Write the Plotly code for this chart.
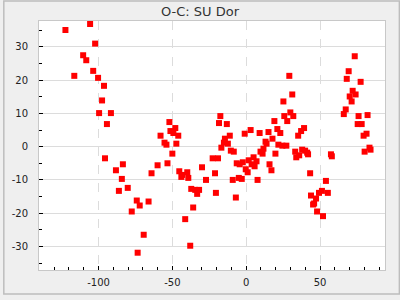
import plotly.graph_objects as go

# Cycle (E) values and O-C residuals
cycle = [
    -105.7, -122.4, -102.3, -110.4, -108.3, -103.6, -116.4, -100.3, -96.3, -97.6,
    -99.6, -91.6, -94.3, -52.0, -48.0, -51.3, -49.3, -46.0, -58.0, -55.3,
    -54.0, -47.3, -17.5, -18.4, -95.6, -83.5, -88.2, -84.2, -86.2, -80.2,
    -74.1, -72.1, -66.1, -77.5, -69.4, -73.5, -37.9, -41.3, -35.9, -33.2,
    -37.2, -34.5, -31.9, -27.2, -20.5, -21.1, -29.9, -39.2, -43.9, -43.3,
    -45.3, -39.9, -53.3, -60.0, -64.1, -50.0, -22.7, -19.1, -16.8, 73.5,
    69.4, 68.1, 77.5, 29.2, 31.2, 25.2, 72.1, 70.1, 74.1, 71.4,
    67.4, 66.1, 29.9, 25.8, 31.9, 76.1, 82.2, 19.1, 27.8, 75.5,
    78.2, -13.1, -11.1, -1.0, 3.0, 9.1, 15.1, 21.1, 23.1, 39.2,
    37.2, 35.2, 81.5, 79.5, -14.4, -15.1, -12.4, 17.8, 13.1, 13.8,
    21.8, 24.5, 27.2, -10.4, -8.4, 11.7, 9.7, 11.1, 19.8, 5.0,
    1.7, 7.0, -6.4, -4.4, -2.3, 3.7, 5.7, -0.3, 1.0, 15.8,
    17.1, -5.0, -3.0, -9.1, 7.7, -7.0, 33.2, 33.9, 35.9, 37.9,
    39.9, 41.3, 41.9, 43.3, 54.0, 51.3, 49.3, 55.3, 43.9, 47.3,
    46.0, 45.3, 48.0, 52.0, 57.4, 58.0, 80.2, 83.5, 84.2,
]
oc = [
    36.9, 35.1, 31.0, 27.5, 26.0, 22.8, 21.3, 20.7, 18.3, 13.9,
    10.1, 10.1, 6.8, 7.4, 5.6, 4.7, 4.1, 3.3, 3.3, 1.2,
    0.6, 0.9, 9.2, 7.1, -3.5, -5.3, -7.1, -9.7, -13.3, -12.4,
    -16.2, -17.7, -16.5, -19.5, -26.5, -31.9, -29.8, -21.8, -18.3, -14.2,
    -12.7, -13.0, -13.0, -10.0, -13.9, -8.0, -6.2, -9.4, -9.1, -8.5,
    -7.4, -7.7, -5.0, -5.6, -8.0, -2.1, -3.5, -3.5, -0.3, 27.2,
    22.7, 20.4, 19.5, 21.3, 15.7, 13.6, 16.8, 15.1, 15.7, 13.6,
    11.2, 9.8, 10.3, 9.2, 9.2, 9.2, 9.5, 7.7, 7.7, 6.8,
    6.8, 6.8, 3.3, 3.9, 5.0, 4.1, 4.4, 5.3, 4.1, 5.6,
    4.7, 3.3, 3.9, 3.3, 2.4, 1.2, 0.9, 2.4, 1.5, 0.9,
    0.6, 0.3, 0.3, -1.2, -1.5, -0.6, -1.5, -2.1, -2.1, -3.2,
    -4.1, -4.4, -5.0, -5.3, -4.7, -5.3, -5.9, -6.8, -7.7, -5.3,
    -7.1, -9.4, -9.7, -10.0, -10.0, -15.3, -1.5, -3.2, -2.6, -0.9,
    -1.2, -1.8, -2.3, -8.0, -10.3, -13.3, -13.9, -13.9, -14.7, -15.6,
    -17.1, -17.4, -19.5, -20.9, -2.3, -2.9, -1.5, -0.3, -0.9,
]

title_text = "O-C: SU Dor"
x_range = [-140.3, 94.0]
y_range = [-37.1, 37.8]

W, H = 400, 300
ml, mr, mt, mb = 36, 15, 21, 25
pw, ph = W - ml - mr, H - mt - mb

fig = go.Figure()
fig.add_trace(go.Scatter(
    x=cycle, y=oc, mode="markers",
    marker=dict(symbol="square", size=6, color="#ff0000", line=dict(width=0)),
    showlegend=False, hoverinfo="x+y",
))

font = "DejaVu Sans, Verdana, sans-serif"
common_axis = dict(
    showline=True, linecolor="#c8c8c8", linewidth=1, mirror=True,
    ticks="inside", ticklen=4, tickwidth=1, tickcolor="#000000",
    tickfont=dict(family=font, size=10, color="#222222"),
    zeroline=False, fixedrange=True,
)
fig.update_layout(
    width=W, height=H,
    margin=dict(l=ml, r=mr, t=mt, b=mb, pad=0),
    paper_bgcolor="#efefef", plot_bgcolor="#ffffff",
    title=dict(text=title_text, x=0.5, xanchor="center", y=1 - 11.5 / H,
               yanchor="middle", yref="container",
               font=dict(family=font, size=13, color="#333333")),
    xaxis=dict(range=x_range, tickvals=[-100, -50, 0, 50],
               ticktext=["-100", "-50", "0", "50"],
               showgrid=True, gridcolor="#dcdcdc", griddash="dash", gridwidth=1,
               minor=dict(dtick=10, tick0=0, ticks="inside", ticklen=3,
                          tickcolor="#000000", showgrid=False),
               ticklabelstandoff=3,
               **common_axis),
    yaxis=dict(range=y_range, tickvals=[-30, -20, -10, 0, 10, 20, 30],
               ticktext=["-30", "-20", "-10", "0", "10", "20", "30"],
               showgrid=True, gridcolor="#dcdcdc", gridwidth=1,
               minor=dict(dtick=5, tick0=0, ticks="inside", ticklen=3,
                          tickcolor="#000000", showgrid=False),
               ticklabelstandoff=8,
               **common_axis),
)

# outer frame of the figure
fig.add_shape(type="rect", xref="paper", yref="paper",
              x0=(-ml + 0.5) / pw, x1=1 + (mr - 0.5) / pw,
              y0=(-mb + 0.5) / ph, y1=1 + (mt - 0.5) / ph,
              line=dict(color="#bdbdbd", width=1.5), layer="below")

fig.write_html("out.html")
